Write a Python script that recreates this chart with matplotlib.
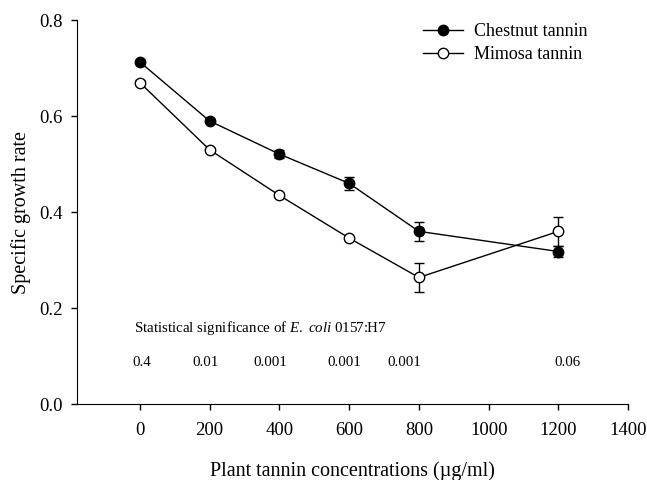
import matplotlib
matplotlib.use("Agg")
import matplotlib.pyplot as plt

# tannin concentrations (ug/ml)
conc = [0, 200, 400, 600, 800, 1200]

chestnut = [0.713, 0.590, 0.521, 0.460, 0.360, 0.318]
chestnut_err = [0.005, 0.004, 0.008, 0.013, 0.020, 0.012]

mimosa = [0.670, 0.530, 0.435, 0.346, 0.264, 0.360]
mimosa_err = [0.006, 0.004, 0.004, 0.004, 0.030, 0.030]

# p-values shown under the curves
p_labels = ["0.4", "0.01", "0.001", "0.001", "0.001", "0.06"]
p_pos = [6, 189, 373, 585, 757, 1225]

plt.rcParams['font.family'] = ['Liberation Serif', 'DejaVu Serif']
plt.rcParams['mathtext.fontset'] = 'custom'
plt.rcParams['mathtext.rm'] = 'Liberation Serif'
plt.rcParams['mathtext.it'] = 'Liberation Serif:italic'

fig = plt.figure(figsize=(6.47, 4.8), dpi=100)
ax = fig.add_axes([0.119, 0.158, 0.852, 0.800])

# error bars first, then the lines with markers on top
ax.errorbar(conc, chestnut, yerr=chestnut_err, fmt='none', ecolor='black',
            elinewidth=1, capsize=3.5, capthick=1)
ax.errorbar(conc, mimosa, yerr=mimosa_err, fmt='none', ecolor='black',
            elinewidth=1, capsize=3.5, capthick=1)
ax.plot(conc, chestnut, color='black', marker='o', markersize=7.5,
        markerfacecolor='black', linewidth=1, label='Chestnut tannin')
ax.plot(conc, mimosa, color='black', marker='o', markersize=7.5,
        markerfacecolor='white', linewidth=1, label='Mimosa tannin')

ax.set_xlim(-180, 1400)
ax.set_ylim(0, 0.8)
ax.set_xticks(range(0, 1401, 200))
ax.set_yticks([0.0, 0.2, 0.4, 0.6, 0.8])
ax.set_yticklabels(["0.0", "0.2", "0.4", "0.6", "0.8"])
ax.spines['top'].set_visible(False)
ax.spines['right'].set_visible(False)
ax.tick_params(axis='both', labelsize=13.5, length=4, width=1)
ax.tick_params(axis='x', pad=9)
ax.tick_params(axis='y', pad=6)

ax.set_xlabel("Plant tannin concentrations (\u00b5g/ml)", fontsize=14.5, labelpad=16)
ax.set_ylabel("Specific growth rate", fontsize=14.5, labelpad=6)

ax.text(-17, 0.158, "Statistical significance of $\\it{E.\\ coli}$ 0157:H7",
        fontsize=10.8, va='center', ha='left')
for lab, xp in zip(p_labels, p_pos):
    ax.text(xp, 0.086, lab, fontsize=10.8, va='center', ha='center')

ax.legend(loc='upper right', bbox_to_anchor=(0.955, 1.035), frameon=False,
          fontsize=13, handlelength=2.2, handletextpad=0.6, labelspacing=0.35,
          numpoints=1)

fig.savefig("out.png", dpi=100)
